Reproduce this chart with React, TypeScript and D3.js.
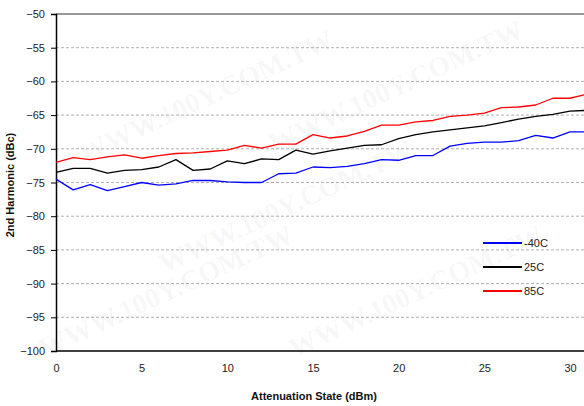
import React, { useEffect, useRef } from 'react';
import * as d3 from 'd3';

const states = d3.range(0, 32);
const minus40 = [-74.5, -76.1, -75.3, -76.2, -75.6, -75.0, -75.4, -75.2, -74.7, -74.7, -74.9, -75.0, -75.0, -73.7, -73.6, -72.7, -72.8, -72.6, -72.2, -71.6, -71.7, -71.0, -71.0, -69.6, -69.2, -69.0, -69.0, -68.8, -68.0, -68.4, -67.5, -67.5];
const plus25 = [-73.5, -72.9, -72.9, -73.6, -73.2, -73.1, -72.7, -71.6, -73.2, -73.0, -71.8, -72.2, -71.5, -71.6, -70.2, -70.8, -70.3, -69.9, -69.5, -69.4, -68.5, -67.9, -67.5, -67.2, -66.9, -66.6, -66.1, -65.6, -65.2, -64.9, -64.4, -64.3];
const plus85 = [-72.0, -71.3, -71.6, -71.2, -70.9, -71.4, -71.0, -70.7, -70.6, -70.4, -70.2, -69.5, -69.9, -69.3, -69.3, -67.9, -68.4, -68.1, -67.4, -66.5, -66.5, -66.0, -65.8, -65.2, -65.0, -64.7, -63.9, -63.8, -63.5, -62.5, -62.5, -61.9];
const xTicks = [0, 5, 10, 15, 20, 25, 30];
const yTicks = [-50, -55, -60, -65, -70, -75, -80, -85, -90, -95, -100];
const seriesNames = ['-40C', '25C', '85C'];
const seriesColors = ['#0000ff', '#000000', '#ff0000'];

const W = 584;
const H = 406;
const font = '"Liberation Sans Narrow", "Liberation Sans", Arial, sans-serif';

export default function App() {
  const svgRef = useRef<SVGSVGElement>(null);

  useEffect(() => {
    if (!svgRef.current) return;
    const svg = d3.select(svgRef.current);
    svg.selectAll('*').remove();

    const x = d3.scaleLinear().domain([0, 30]).range([56, 570]);
    const y = d3.scaleLinear().domain([-100, -50]).range([351, 14]);

    // faint watermark
    const wm = svg.append('g').attr('fill', '#000').attr('fill-opacity', 0.045)
      .attr('font-family', 'Liberation Serif, serif').attr('font-weight', 'bold').attr('font-size', 28);
    [[210, 105], [400, 95], [290, 215], [420, 300], [170, 300]].forEach(([cx, cy]) => {
      wm.append('text').attr('x', cx).attr('y', cy).attr('text-anchor', 'middle')
        .attr('transform', `rotate(-25, ${cx}, ${cy})`).text('WWW.100Y.COM.TW');
    });

    // gridlines
    svg.append('g').selectAll('line').data(yTicks.filter(v => v > -100)).enter().append('line')
      .attr('x1', 56).attr('x2', W)
      .attr('y1', d => y(d)).attr('y2', d => y(d))
      .attr('stroke', d => (d === -50 ? '#777' : '#b0b0b0'))
      .attr('stroke-width', d => (d === -50 ? 1.5 : 1))
      .attr('stroke-dasharray', d => (d === -50 ? null : '3,2') as any);

    // y axis
    const yAxis = svg.append('g').attr('transform', 'translate(56,0)')
      .call(d3.axisLeft(y).tickValues(yTicks).tickSize(5).tickPadding(6).tickFormat(d3.format('d')));
    yAxis.select('.domain').attr('stroke', '#000').attr('stroke-width', 1.5);
    yAxis.selectAll('.tick line').attr('stroke', '#000');
    yAxis.selectAll('text').attr('font-family', font).attr('font-size', 11).attr('fill', '#222');

    // x axis
    const xAxis = svg.append('g').attr('transform', `translate(0,${y(-100)})`)
      .call(d3.axisBottom(x).tickValues(xTicks).tickSize(0).tickPadding(13).tickFormat(d3.format('d')));
    xAxis.select('.domain').attr('stroke', '#000').attr('stroke-width', 1.5).attr('d', `M56,0H${W}`);
    xAxis.selectAll('text').attr('font-family', font).attr('font-size', 11).attr('fill', '#222');

    // lines
    const all = [minus40, plus25, plus85];
    const line = d3.line<number>().x((_, i) => x(states[i])).y(d => y(d));
    all.forEach((vals, k) => {
      svg.append('path').datum(vals).attr('d', line).attr('fill', 'none')
        .attr('stroke', seriesColors[k]).attr('stroke-width', 1.3).attr('stroke-linejoin', 'round');
    });

    // legend
    const lg = svg.append('g');
    seriesNames.forEach((name, k) => {
      const ly = 243 + k * 24;
      lg.append('line').attr('x1', 483).attr('x2', 522).attr('y1', ly).attr('y2', ly)
        .attr('stroke', seriesColors[k]).attr('stroke-width', 2);
      lg.append('text').attr('x', 524).attr('y', ly + 4).attr('font-family', font)
        .attr('font-size', 11).attr('fill', '#222').text(name);
    });

    // axis titles
    svg.append('text').attr('x', 314).attr('y', 400).attr('text-anchor', 'middle')
      .attr('font-family', font).attr('font-weight', 'bold').attr('font-size', 11).attr('fill', '#111')
      .text('Attenuation State (dBm)');
    svg.append('text').attr('transform', 'translate(14,185) rotate(-90)').attr('text-anchor', 'middle')
      .attr('font-family', font).attr('font-weight', 'bold').attr('font-size', 11).attr('fill', '#111')
      .text('2nd Harmonic (dBc)');
  }, []);

  return (
    <svg ref={svgRef} width={W} height={H}
      style={{ position: 'absolute', left: 0, top: 0, background: '#fff' }} />
  );
}
